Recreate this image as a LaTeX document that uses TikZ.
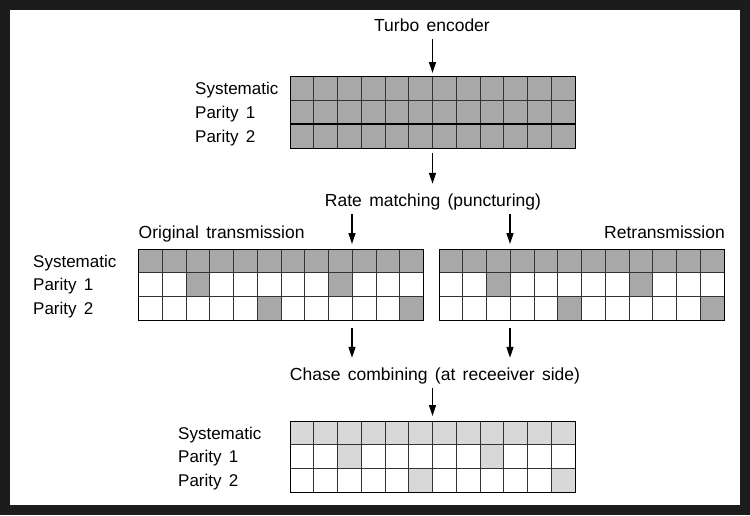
\documentclass[tikz,border=0pt]{standalone}
\usepackage{fontspec}
\setmainfont{Liberation Sans}
\usetikzlibrary{arrows.meta}
\definecolor{framegray}{HTML}{1C1C1C}
\definecolor{darkcell}{HTML}{A8A8A8}
\definecolor{lightcell}{HTML}{D8D8D8}

\begin{document}
\begin{tikzpicture}[x=1pt,y=-1pt,
  widespace/.style={execute at begin node={\spaceskip=0.42em\relax}},
  flow/.style={-{Triangle[length=11pt,width=7pt]},line width=1.4pt,shorten >=5pt},
  caption/.style={anchor=base,font=\fontsize{17.5}{20}\selectfont,widespace,text height=13pt,text depth=4pt,inner xsep=0pt,inner ysep=4pt},
  rowlabel/.style={anchor=base west,font=\fontsize{17}{20}\selectfont,widespace,inner sep=0pt},
  cellline/.style={draw=black!80,line width=0.8pt},
  gridframe/.style={draw=black,line width=1pt}]

\fill[framegray] (0,0) rectangle (750,515);
\fill[white] (10,10) rectangle (740,505);

\node[caption] (turbo) at (432,31) {Turbo encoder};
\node[caption] (rate) at (433,206) {Rate matching (puncturing)};
\node[caption] (chase) at (435,380) {Chase combining (at receeiver side)};
\node[anchor=base west,font=\fontsize{17.5}{20}\selectfont,widespace,inner sep=0pt] (orig) at (138.5,238) {Original transmission};
\node[anchor=base east,font=\fontsize{17.5}{20}\selectfont,inner sep=0pt] (retx) at (725,238) {Retransmission};

\node[rowlabel] (enc-sys) at (195,94) {Systematic};
\node[rowlabel] (enc-p1) at (195,118) {Parity 1};
\node[rowlabel] (enc-p2) at (195,142) {Parity 2};

\node[rowlabel] (tx-sys) at (33,267) {Systematic};
\node[rowlabel] (tx-p1) at (33,290.5) {Parity 1};
\node[rowlabel] (tx-p2) at (33,314) {Parity 2};

\node[rowlabel] (comb-sys) at (178,439) {Systematic};
\node[rowlabel] (comb-p1) at (178,462.5) {Parity 1};
\node[rowlabel] (comb-p2) at (178,486) {Parity 2};

\fill[darkcell] (290,76) rectangle (575,148);
\foreach \c in {1,...,11}
  \draw[cellline] ({290+23.75*\c},76) -- ++(0,72);
\draw[cellline] (290,100) -- (575,100);
\draw[line width=1.6pt] (290,124) -- (575,124);
\draw[gridframe] (290,76) rectangle (575,148);

\foreach \x in {138.5,439} {
  \fill[darkcell] (\x,249) rectangle ++(285,23.7);
  \foreach \c/\r in {2/1,8/1,5/2,11/2}
    \fill[darkcell] ({\x+23.75*\c},{249+23.7*\r}) rectangle ++(23.75,23.7);
  \foreach \c in {1,...,11}
    \draw[cellline] ({\x+23.75*\c},249) -- ++(0,71);
  \draw[cellline] (\x,272.7) -- ++(285,0);
  \draw[cellline] (\x,296.3) -- ++(285,0);
  \draw[gridframe] (\x,249) rectangle ++(285,71);
}

\fill[lightcell] (290,421) rectangle ++(285,23.7);
\foreach \c/\r in {2/1,8/1,5/2,11/2}
  \fill[lightcell] ({290+23.75*\c},{421+23.7*\r}) rectangle ++(23.75,23.7);
\foreach \c in {1,...,11}
  \draw[cellline] ({290+23.75*\c},421) -- ++(0,71);
\draw[cellline] (290,444.7) -- ++(285,0);
\draw[cellline] (290,468.3) -- ++(285,0);
\draw[gridframe] (290,421) rectangle ++(285,71);

\coordinate (enc-n) at (432.5,76);
\coordinate (enc-s) at (432.5,148);
\coordinate (orig-n) at (352,249);
\coordinate (orig-s) at (352,320);
\coordinate (retx-n) at (510,249);
\coordinate (retx-s) at (510,320);
\coordinate (comb-n) at (432.5,421);

\draw[flow,shorten >=3pt] (turbo.south -| enc-n) -- (enc-n);
\draw[flow,shorten <=5pt] (enc-s) -- (rate.north -| enc-s);
\draw[flow] (rate.south -| orig-n) -- (orig-n);
\draw[flow] (rate.south -| retx-n) -- (retx-n);
\draw[flow,shorten <=8pt] (orig-s) -- (chase.north -| orig-s);
\draw[flow,shorten <=8pt] (retx-s) -- (chase.north -| retx-s);
\draw[flow] (chase.south -| comb-n) -- (comb-n);

\end{tikzpicture}
\end{document}
